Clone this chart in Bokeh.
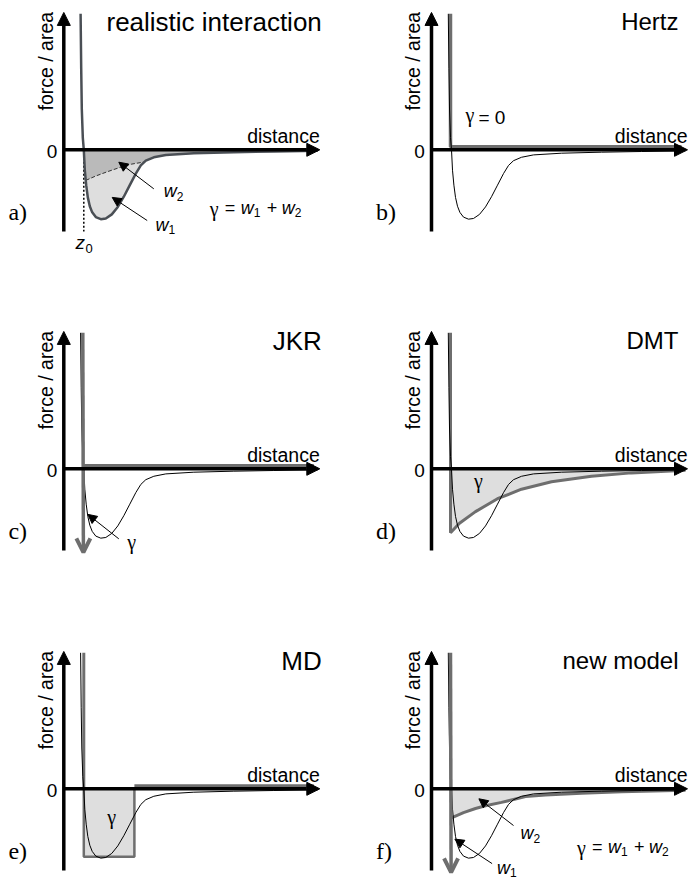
import math
from bokeh.plotting import figure
from bokeh.models import Range1d, Label, Arrow, NormalHead, OpenHead
from bokeh.layouts import row, column
from bokeh.embed import file_html
from bokeh.resources import INLINE

# ---------------- data (schematic units: z0 = 1, well depth = 1) ----------------
REAL_X = [0.84, 0.87, 0.9, 0.95, 1.0, 1.05, 1.12, 1.2, 1.3, 1.42, 1.6, 1.85, 2.1,
          2.4, 2.7, 3.0, 3.3, 3.6, 3.85, 4.1, 4.5, 5.1, 6.5, 8.5, 10.5, 12.7]
REAL_Y = [2.0, 1.2, 0.6, 0.18, 0.0, -0.3, -0.52, -0.7, -0.83, -0.92, -0.99, -1.02, -1.01,
          -0.95, -0.84, -0.69, -0.52, -0.35, -0.23, -0.16, -0.11, -0.075, -0.05, -0.035, -0.025, -0.015]

SPLIT_X = [1.1, 1.6, 2.2, 2.8, 3.4, 4.0]          # w1 / w2 boundary (panel a)
SPLIT_Y = [-0.45, -0.385, -0.32, -0.26, -0.21, -0.18]

DMT_X = [0.95, 0.95, 1.4, 2.2, 3.3, 4.5, 6.0, 8.0, 10.0, 12.7]
DMT_Y = [2.0, -0.94, -0.80, -0.63, -0.44, -0.30, -0.19, -0.11, -0.06, -0.02]

NEW_X = [0.97, 1.6, 2.2, 2.7, 3.5, 4.2, 4.7, 5.7, 7.5, 9.5, 12.7]
NEW_Y = [-0.43, -0.35, -0.29, -0.25, -0.20, -0.15, -0.115, -0.09, -0.065, -0.045, -0.02]

MD_LEFT, MD_RIGHT, MD_DEPTH = 1.0, 3.53, -1.0
WALL_X, WALL_TOP, WALL_TIP = 0.95, 2.0, -1.23
Z0 = 1.0
AXIS_X_END, AXIS_Y_TOP, AXIS_Y_BOTTOM = 12.8, 2.02, -1.2

TITLES = ["realistic interaction", "Hertz", "JKR", "DMT", "MD", "new model"]
TAGS = ["a)", "b)", "c)", "d)", "e)", "f)"]
XLABEL, YLABEL, ZERO = "distance", "force / area", "0"

# ---------------- style / layout ----------------
SANS, SERIF = "Liberation Sans", "Liberation Serif"
BLACK, GREY, DARK = "#000000", "#6e6e6e", "#4a4f55"
FILL_LIGHT, FILL_DARK = "#dedede", "#bababa"
SX, SY = 20.0, 68.0                 # px per unit
COL_W, COL_AX = [360, 330], [63.3, 71.0]
ROW_H, ROW_OY = [304, 310, 267], [149.3, 164.3, 174.3]
ZOFF = 3.0 / SY


def base_fig(col, rw):
    W, ax = COL_W[col], COL_AX[col]
    H, oy = ROW_H[rw], ROW_OY[rw]
    p = figure(width=W, height=H,
               x_range=Range1d(-ax / SX, (W - ax) / SX),
               y_range=Range1d(-(H - oy) / SY, oy / SY),
               output_backend="svg", toolbar_location=None, min_border=0,
               x_axis_location=None, y_axis_location=None,
               outline_line_color=None, background_fill_color="white",
               border_fill_color="white")
    p.grid.visible = False
    return p


def label(p, x, y, text, font=SANS, size=19, style="normal", align="left",
          dx=0, dy=0, angle=0.0):
    p.add_layout(Label(x=x, y=y, text=text, text_font=font, text_font_size=f"{size}px",
                       text_font_style=style, text_align=align, text_baseline="middle",
                       x_offset=dx, y_offset=dy, angle=angle, text_color=BLACK))


def pointer(p, x0, y0, x1, y1):
    p.add_layout(Arrow(end=NormalHead(size=9, fill_color=BLACK, line_color=BLACK, line_width=1),
                       x_start=x0, y_start=y0, x_end=x1, y_end=y1,
                       line_color=BLACK, line_width=1))


def w_label(p, x, y, sub):
    label(p, x, y, "w", size=18, style="italic")
    label(p, x, y, sub, size=12, dx=13, dy=-5)


def formula(p, x, y):
    label(p, x, y, "γ", font=SERIF, size=20, dy=-1)
    label(p, x, y, "=", size=18, dx=15)
    label(p, x, y, "w", size=18, style="italic", dx=31)
    label(p, x, y, "1", size=12, dx=44, dy=-5)
    label(p, x, y, "+", size=18, dx=57)
    label(p, x, y, "w", size=18, style="italic", dx=72)
    label(p, x, y, "2", size=12, dx=85, dy=-5)


def decorate(p, k, col):
    head = dict(size=13, fill_color=BLACK, line_color=BLACK, line_width=1)
    p.add_layout(Arrow(end=NormalHead(**head), x_start=0, y_start=AXIS_Y_BOTTOM,
                       x_end=0, y_end=AXIS_Y_TOP, line_width=3.5, line_color=BLACK))
    p.add_layout(Arrow(end=NormalHead(**head), x_start=0, y_start=0,
                       x_end=AXIS_X_END, y_end=0, line_width=3.5, line_color=BLACK))
    label(p, AXIS_X_END, 0.21, XLABEL, size=19.5, align="right")
    label(p, -0.33, -0.02, ZERO, size=19, align="right")
    label(p, -0.915, 0.578, YLABEL, size=19.5, angle=math.pi / 2)
    label(p, 12.9 if col == 0 else 12.35, 1.88, TITLES[k], size=26 if col == 0 else 24,
          align="right")
    label(p, -2.77, -0.91, TAGS[k], font=SERIF, size=24)


def thin_curve(p):
    p.line(REAL_X, REAL_Y, line_color=BLACK, line_width=1)


def grey_wall_arrow(p):
    p.add_layout(Arrow(end=OpenHead(size=14, line_color=GREY, line_width=4),
                       x_start=WALL_X, y_start=WALL_TOP, x_end=WALL_X + 0.03, y_end=WALL_TIP,
                       line_color=GREY, line_width=3.5))


# ---------------- a) realistic interaction ----------------
pa = base_fig(0, 0)
cx = [x for x in REAL_X if x >= Z0]
cy = [y for x, y in zip(REAL_X, REAL_Y) if x >= Z0]
pa.patch(cx + [cx[-1], cx[0]], cy + [0, 0], fill_color=FILL_DARK, line_color=None)
inner = [(x, y) for x, y in zip(REAL_X, REAL_Y) if SPLIT_X[0] < x < SPLIT_X[-1]]
pa.patch(SPLIT_X + [x for x, _ in inner[::-1]], SPLIT_Y + [y for _, y in inner[::-1]],
         fill_color=FILL_LIGHT, line_color=None)
pa.line(SPLIT_X, SPLIT_Y, line_color="#333333", line_width=1, line_dash="4 2")
pa.line([Z0, Z0], [0, AXIS_Y_BOTTOM], line_color=BLACK, line_width=1.5, line_dash="2 2")
pa.line(REAL_X, REAL_Y, line_color=DARK, line_width=2.5)
decorate(pa, 0, 0)
pointer(pa, 4.5, -0.574, 2.75, -0.182)
pointer(pa, 4.17, -1.04, 2.42, -0.70)
w_label(pa, 5.0, -0.61, "2")
w_label(pa, 4.58, -1.10, "1")
formula(pa, 7.3, -0.85)
label(pa, 0.585, -1.36, "z", size=19, style="italic")
label(pa, 0.585, -1.36, "0", size=13, dx=10, dy=-6)

# ---------------- b) Hertz ----------------
pb = base_fig(1, 0)
pb.line([WALL_X, WALL_X, AXIS_X_END - 0.3], [WALL_TOP, ZOFF, ZOFF], line_color=GREY, line_width=3.5)
thin_curve(pb)
decorate(pb, 1, 1)
label(pb, 1.7, 0.48, "γ", font=SERIF, size=20, dy=2)
label(pb, 1.7, 0.48, "= 0", size=19, dx=13)

# ---------------- c) JKR ----------------
pc = base_fig(0, 1)
pc.line([WALL_X, AXIS_X_END - 0.3], [ZOFF, ZOFF], line_color=GREY, line_width=3.5)
thin_curve(pc)
grey_wall_arrow(pc)
decorate(pc, 2, 0)
pointer(pc, 2.75, -1.03, 1.2, -0.67)
label(pc, 3.17, -1.07, "γ", font=SERIF, size=20)

# ---------------- d) DMT ----------------
pd = base_fig(1, 1)
pd.patch(DMT_X[1:] + [DMT_X[-1], DMT_X[1]], DMT_Y[1:] + [0, 0], fill_color=FILL_LIGHT, line_color=None)
pd.line(DMT_X, DMT_Y, line_color=GREY, line_width=3)
thin_curve(pd)
decorate(pd, 3, 1)
label(pd, 2.12, -0.18, "γ", font=SERIF, size=20)

# ---------------- e) MD ----------------
pe = base_fig(0, 2)
pe.quad(left=[MD_LEFT], right=[MD_RIGHT], top=[0], bottom=[MD_DEPTH],
        fill_color=FILL_LIGHT, line_color=GREY, line_width=2.5)
pe.line([MD_LEFT, MD_LEFT], [WALL_TOP, 0], line_color=GREY, line_width=3)
pe.line([MD_RIGHT, AXIS_X_END - 0.3], [ZOFF, ZOFF], line_color=GREY, line_width=3)
thin_curve(pe)
decorate(pe, 4, 0)
label(pe, 2.17, -0.42, "γ", font=SERIF, size=20)

# ---------------- f) new model ----------------
pf = base_fig(1, 2)
pf.patch(NEW_X + [NEW_X[-1], NEW_X[0]], NEW_Y + [0, 0], fill_color=FILL_LIGHT, line_color=None)
pf.line(NEW_X, NEW_Y, line_color=GREY, line_width=3)
thin_curve(pf)
grey_wall_arrow(pf)
decorate(pf, 5, 1)
pointer(pf, 4.1, -0.54, 2.37, -0.147)
pointer(pf, 3.03, -1.10, 1.17, -0.74)
w_label(pf, 4.45, -0.65, "2")
w_label(pf, 3.28, -1.16, "1")
formula(pf, 7.28, -0.85)

layout = column(row(pa, pb), row(pc, pd), row(pe, pf))
open("out.html", "w").write(file_html(layout, INLINE))
